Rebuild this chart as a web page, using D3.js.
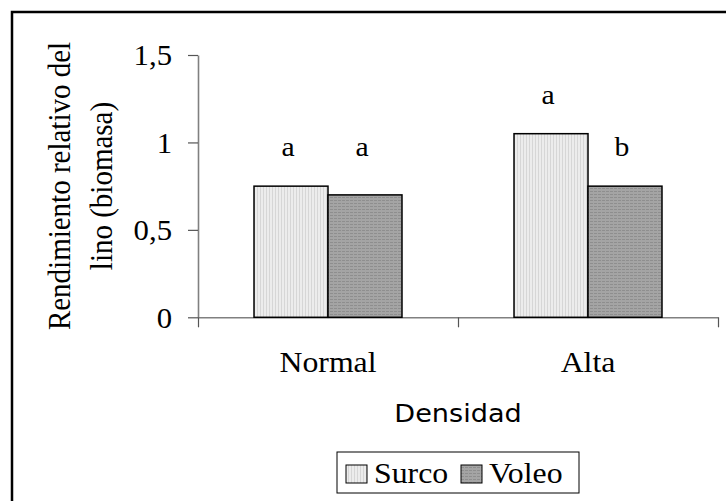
<!DOCTYPE html>
<html>
<head>
<meta charset="utf-8">
<script src="https://cdn.jsdelivr.net/npm/d3@7"></script>
<style>
  body { margin: 0; background: #fff; }
  svg { display: block; }
</style>
</head>
<body>
<div id="chart"></div>
<script>
// data
const categories = ["Normal", "Alta"];
const series = ["Surco", "Voleo"];
const surco = [0.75, 1.05];
const voleo = [0.70, 0.75];
const surcoLetters = ["a", "a"];
const voleoLetters = ["a", "b"];
// where the letters sit (in y units)
const surcoLetterAt = [0.92, 1.22];
const voleoLetterAt = [0.92, 0.92];
const yTicks = [0, 0.5, 1, 1.5];
const yTickLabels = ["0", "0,5", "1", "1,5"];

function main(){
  const W = 726, H = 501;
  const margin = {top: 55, right: 8, bottom: 184, left: 198};
  const stretch = 1.06;   // the original picture is a bit wider than tall
  const serif = "'Liberation Serif', 'Times New Roman', serif";

  const svg = d3.select("#chart")
    .append("svg")
    .attr("width", W)
    .attr("height", H);

  // patterns for the two fills
  const defs = svg.append("defs");
  const p1 = defs.append("pattern").attr("id", "surcoFill")
    .attr("patternUnits", "userSpaceOnUse").attr("width", 3).attr("height", 3);
  p1.append("rect").attr("width", 3).attr("height", 3).attr("fill", "#ececec");
  p1.append("rect").attr("x", 2).attr("width", 1).attr("height", 3).attr("fill", "#d6d6d6");

  const p2 = defs.append("pattern").attr("id", "voleoFill")
    .attr("patternUnits", "userSpaceOnUse").attr("width", 4).attr("height", 3);
  p2.append("rect").attr("width", 4).attr("height", 3).attr("fill", "#a4a4a4");
  p2.append("rect").attr("y", 2).attr("width", 3).attr("height", 1).attr("fill", "#8e8e8e");

  const fills = {Surco: "url(#surcoFill)", Voleo: "url(#voleoFill)"};

  // outer frame (runs off the right and bottom edge like the original)
  svg.append("rect")
    .attr("x", 12).attr("y", 12)
    .attr("width", 800).attr("height", 600)
    .attr("fill", "none")
    .attr("stroke", "#000")
    .attr("stroke-width", 2.5);

  // scales
  const y = d3.scaleLinear()
    .domain([0, 1.5])
    .range([317.3, margin.top]);

  const x0 = d3.scaleBand()
    .domain(categories)
    .range([margin.left, 718])
    .padding(0);

  const x1 = d3.scaleBand()
    .domain(series)
    .range([0, x0.bandwidth()])
    .paddingInner(0)
    .paddingOuter(0.757);

  const xEdge = d3.scaleLinear()
    .domain([0, categories.length])
    .range(x0.range());

  // y axis
  const yAxis = svg.append("g")
    .attr("transform", `translate(${margin.left},0)`)
    .call(d3.axisLeft(y)
      .tickValues(yTicks)
      .tickFormat((d, i) => yTickLabels[i])
      .tickSizeInner(10)
      .tickSizeOuter(0));
  yAxis.select(".domain").attr("stroke", "#808080").attr("stroke-width", 1.6);
  yAxis.selectAll(".tick line").attr("stroke", "#555").attr("stroke-width", 1.2);
  yAxis.selectAll(".tick text")
    .attr("x", null)
    .attr("dy", "0.34em")
    .attr("transform", `translate(-26,0) scale(${stretch},1)`)
    .attr("font-family", serif)
    .attr("font-size", 29)
    .attr("fill", "#000");

  // x axis (ticks at the category edges)
  const xAxis = svg.append("g")
    .attr("transform", `translate(0,${y(0)})`)
    .call(d3.axisBottom(xEdge)
      .tickValues(d3.range(categories.length + 1))
      .tickFormat("")
      .tickSizeInner(10)
      .tickSizeOuter(0));
  xAxis.select(".domain").attr("stroke", "#808080").attr("stroke-width", 1.6);
  xAxis.selectAll(".tick line").attr("stroke", "#555").attr("stroke-width", 1.2);

  // bars
  const rows = categories.map((c, i) => ({
    cat: c,
    vals: [
      {s: "Surco", v: surco[i], l: surcoLetters[i], at: surcoLetterAt[i]},
      {s: "Voleo", v: voleo[i], l: voleoLetters[i], at: voleoLetterAt[i]}
    ]
  }));

  const groups = svg.append("g")
    .selectAll("g")
    .data(rows)
    .join("g")
    .attr("transform", d => `translate(${x0(d.cat)},0)`);

  groups.selectAll("rect")
    .data(d => d.vals)
    .join("rect")
    .attr("x", d => x1(d.s))
    .attr("y", d => y(d.v))
    .attr("width", x1.bandwidth())
    .attr("height", d => y(0) - y(d.v))
    .attr("fill", d => fills[d.s])
    .attr("stroke", "#000")
    .attr("stroke-width", 1.5);

  // significance letters
  groups.selectAll("text")
    .data(d => d.vals)
    .join("text")
    .attr("transform", d => `translate(${x1(d.s) + x1.bandwidth() / 2 - 3},${y(d.at)}) scale(${stretch},1)`)
    .attr("text-anchor", "middle")
    .attr("font-family", serif)
    .attr("font-size", 28)
    .text(d => d.l);

  // category labels
  svg.append("g")
    .selectAll("text")
    .data(categories)
    .join("text")
    .attr("transform", d => `translate(${x0(d) + x0.bandwidth() / 2},372) scale(${stretch},1)`)
    .attr("text-anchor", "middle")
    .attr("font-family", serif)
    .attr("font-size", 30)
    .text(d => d);

  // x title
  svg.append("text")
    .attr("transform", `translate(${(x0.range()[0] + x0.range()[1]) / 2},422) scale(1.13,1)`)
    .attr("text-anchor", "middle")
    .attr("font-family", "'DejaVu Sans', sans-serif")
    .attr("font-size", 24)
    .text("Densidad");

  // y title, two lines
  const yTitle = ["Rendimiento relativo del", "lino (biomasa)"];
  svg.append("g")
    .selectAll("text")
    .data(yTitle)
    .join("text")
    .attr("transform", (d, i) => `translate(${70 + i * 42},186) scale(${stretch},1) rotate(-90)`)
    .attr("text-anchor", "middle")
    .attr("font-family", serif)
    .attr("font-size", 29)
    .text(d => d);

  // legend
  const legend = svg.append("g");
  legend.append("rect")
    .attr("x", 337).attr("y", 452)
    .attr("width", 242).attr("height", 41)
    .attr("fill", "#fff")
    .attr("stroke", "#000")
    .attr("stroke-width", 1);

  const legX = [346, 461];
  const items = legend.selectAll("g")
    .data(series)
    .join("g")
    .attr("transform", (d, i) => `translate(${legX[i]},0)`);
  items.append("rect")
    .attr("x", 0).attr("y", 465)
    .attr("width", 21).attr("height", 18)
    .attr("fill", d => fills[d])
    .attr("stroke", "#000")
    .attr("stroke-width", 1);
  items.append("text")
    .attr("transform", `translate(28,483) scale(${stretch},1)`)
    .attr("font-family", serif)
    .attr("font-size", 30)
    .text(d => d);
}

main();
</script>
</body>
</html>
